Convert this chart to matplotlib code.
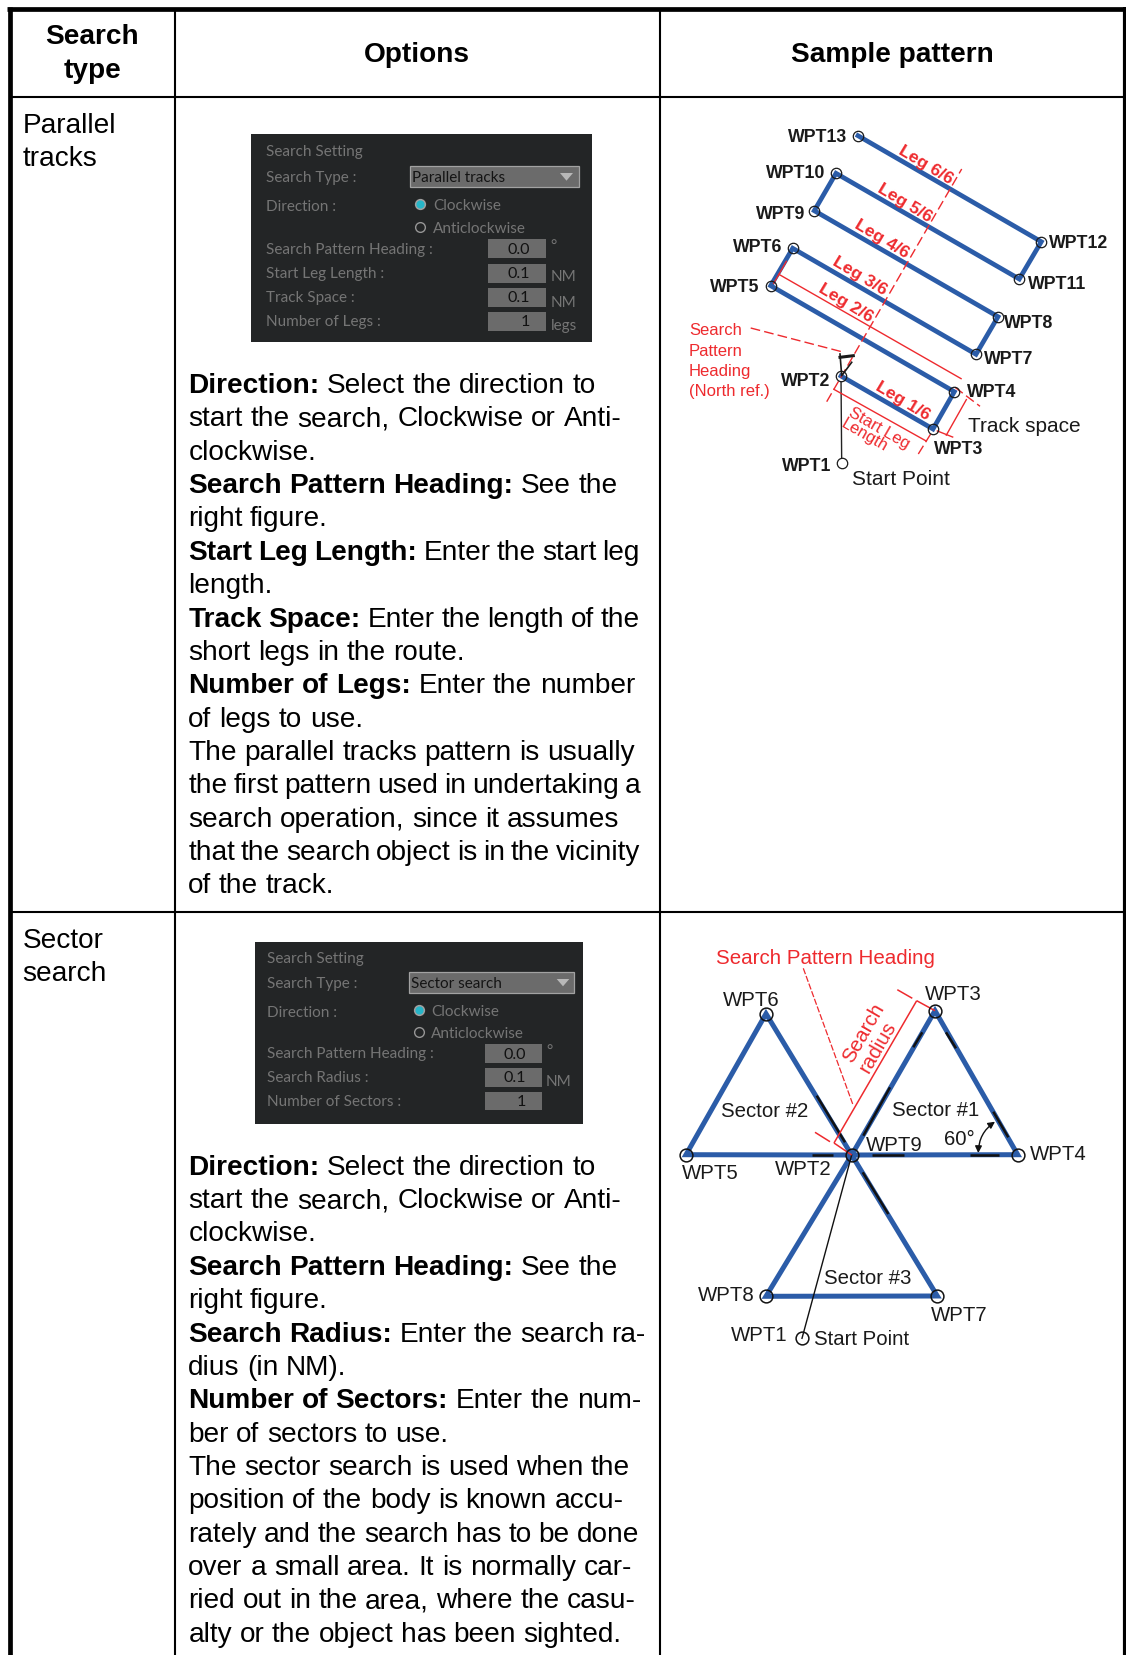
import matplotlib
matplotlib.use('Agg')
import matplotlib.pyplot as plt
from matplotlib.patches import Rectangle, Polygon

plt.rcParams['font.family'] = ['Liberation Sans', 'DejaVu Sans']

BLUE = '#2b5ca8'
RED = '#ee2a2e'
PANEL = '#232526'
GREY_TXT = '#757575'
FIELD = '#6b6b6b'
HEAD = 20.2
BODY = 20.2
UI = 'Lato'

# table
col_x = [174.5, 659.7]
row_y = [97.7, 912.7]
headers = ['Options', 'Sample pattern']

# text of the two rows: (bold part, plain part)
parallel_text = [
    ('Direction:', 'Select the direction to'),
    ('', 'start the search, Clockwise or Anti-'),
    ('', 'clockwise.'),
    ('Search Pattern Heading:', 'See the'),
    ('', 'right figure.'),
    ('Start Leg Length:', 'Enter the start leg'),
    ('', 'length.'),
    ('Track Space:', 'Enter the length of the'),
    ('', 'short legs in the route.'),
    ('Number of Legs:', 'Enter the number'),
    ('', 'of legs to use.'),
    ('', 'The parallel tracks pattern is usually'),
    ('', 'the first pattern used in undertaking a'),
    ('', 'search operation, since it assumes'),
    ('', 'that the search object is in the vicinity'),
    ('', 'of the track.'),
]
# the source text is justified, so each line has its own right end
parallel_ends = [595.7, 621.7, 315, 617.3, 327.3, 640, 271.7, 640, 464.3, 635, 362.7, 635, 640, 619, 640, 334]
sector_text = [
    ('Direction:', 'Select the direction to'),
    ('', 'start the search, Clockwise or Anti-'),
    ('', 'clockwise.'),
    ('Search Pattern Heading:', 'See the'),
    ('', 'right figure.'),
    ('Search Radius:', 'Enter the search ra-'),
    ('', 'dius (in NM).'),
    ('Number of Sectors:', 'Enter the num-'),
    ('', 'ber of sectors to use.'),
    ('', 'The sector search is used when the'),
    ('', 'position of the body is known accu-'),
    ('', 'rately and the search has to be done'),
    ('', 'over a small area. It is normally car-'),
    ('', 'ried out in the area, where the casu-'),
    ('', 'alty or the object has been sighted.'),
]
sector_ends = [595.7, 621.7, 315, 617.3, 327.3, 645.7, 345.7, 641, 448.3, 630, 623.3, 639.3, 631.7, 635.7, 621.7]

# parallel track waypoints, WPT1 to WPT13
par_x = [841.7, 841, 933, 954.3, 770.7, 792.7, 976, 998, 814.3, 836, 1019.3, 1041.3, 858]
par_y = [464.3, 377, 430, 392.7, 286.7, 249.3, 355.3, 317.7, 211.7, 174.3, 280, 242.7, 136.7]

# sector search waypoints, WPT1 to WPT9
sec_x = [802, 851.7, 935, 1017.7, 686, 766, 937.3, 766, 851.7]
sec_y = [1339.3, 1156, 1011.7, 1155.7, 1155.7, 1014.7, 1297, 1297.3, 1156]

# thin red lines (x0, y0, x1, y1)
par_red_solid = [(778.3, 275, 961.7, 380), (773.3, 285, 786.7, 261.7), (833.3, 390, 926.7, 442.3),
                 (946, 436.7, 966.7, 400), (936.7, 431.7, 953.3, 438.3)]
par_red_dash = [(826.7, 402.7, 961.7, 170), (955, 388.3, 980, 407.3), (918.3, 455, 931.7, 433.3),
                (750.7, 329, 841.7, 352.7)]
sec_red_solid = [(916.7, 1001.7, 834, 1144), (834, 1144, 851.7, 1156), (916.7, 1001.7, 935, 1011.7),
                 (897.3, 990.7, 912.3, 999.3), (815, 1133.3, 830, 1142.7)]
sec_red_dash = [(803.3, 969.3, 852.7, 1105)]

# black strokes lying on the blue sector lines
sec_black = [(816.7, 1096.7, 845, 1143.3), (863.3, 1136.7, 890, 1088.3), (913.3, 1048.3, 922.3, 1033.3),
             (946, 1033.3, 956, 1049.3), (993.3, 1112.7, 1008.3, 1138.3), (970, 1155.7, 999.3, 1155.7),
             (871.7, 1155.7, 904, 1155.7), (811.7, 1155.7, 832.7, 1155.7), (862.7, 1173.3, 888.3, 1215)]

# labels: text, x, y, ha
par_labels = [('WPT13', 847.3, 138, 'right'), ('WPT10', 825.7, 173.5, 'right'), ('WPT9', 805.7, 214.5, 'right'),
              ('WPT6', 782, 248, 'right'), ('WPT5', 759, 288, 'right'), ('WPT2', 830.7, 382, 'right'),
              ('WPT1', 831, 467, 'right'), ('WPT12', 1049.3, 243, 'left'), ('WPT11', 1028.3, 284.5, 'left'),
              ('WPT8', 1004.3, 323, 'left'), ('WPT7', 984.3, 359.5, 'left'), ('WPT4', 966.7, 393, 'left'),
              ('WPT3', 934, 449.5, 'left')]
leg_labels = [('Leg 6/6', 925.7, 165), ('Leg 5/6', 904.3, 202.7), ('Leg 4/6', 881.7, 238.7),
              ('Leg 3/6', 859.3, 275.7), ('Leg 2/6', 845.3, 303.3), ('Leg 1/6', 902.3, 401)]
heading_lines = [('Search', 330.3), ('Pattern', 351.3), ('Heading', 371.3), ('(North ref.)', 391.7)]
sec_labels = [('WPT6', 751.7, 1000.5, 'center'), ('WPT3', 953.3, 994.5, 'center'), ('WPT9', 866, 1145.5, 'left'),
              ('WPT4', 1030, 1154.5, 'left'), ('WPT5', 710, 1173.5, 'center'), ('WPT2', 803.3, 1169.5, 'center'),
              ('WPT8', 755, 1295.5, 'right'), ('WPT7', 959.3, 1315.5, 'center'), ('WPT1', 787.7, 1335.5, 'right'),
              ('Start Point', 814.3, 1340, 'left'), ('Sector #2', 764.3, 1111.7, 'center'),
              ('Sector #1', 935.7, 1111, 'center'), ('Sector #3', 867.3, 1278.7, 'center'),
              ('60°', 959.3, 1140, 'center')]

# dialog rows: text, y
par_dialog_left = [('Search Setting', 151.7), ('Search Type :', 177.7), ('Direction :', 207),
                   ('Search Pattern Heading :', 250), ('Start Leg Length :', 274),
                   ('Track Space :', 297.7), ('Number of Legs :', 321.7)]
par_fields = [('0.0', 240.3, 259.3), ('0.1', 264.7, 283.7), ('0.1', 288.7, 307.7), ('1', 312.7, 331.7)]
par_units = [('°', 247), ('NM', 277.3), ('NM', 302.7), ('legs', 326)]
sec_dialog_left = [('Search Setting', 958.7), ('Search Type :', 983.7), ('Direction :', 1012.7),
                   ('Search Pattern Heading :', 1054), ('Search Radius :', 1077.7),
                   ('Number of Sectors :', 1101.7)]
sec_fields = [('0.0', 1045.3, 1064), ('0.1', 1069, 1087.7), ('1', 1092.7, 1111)]
sec_units = [('°', 1052.3), ('NM', 1081.7)]

fig = plt.figure(figsize=(11.26, 16.56), dpi=100)
ax = fig.add_axes([0, 0, 1, 1])
ax.set_xlim(0, 1126)
ax.set_ylim(1656, 0)
ax.axis('off')
renderer = fig.canvas.get_renderer()


def segs(items, **kw):
    for a, b, c, d in items:
        ax.plot([a, c], [b, d], solid_capstyle='butt', dash_capstyle='butt', **kw)


# table lines
ax.plot([9.7, 9.7], [8, 1656], color='k', lw=3.4, solid_capstyle='butt')
ax.plot([7, 1126], [10.3, 10.3], color='k', lw=3.4, solid_capstyle='butt')
ax.plot([1125.3, 1125.3], [8, 1656], color='k', lw=3.0, solid_capstyle='butt')
for x in col_x:
    ax.plot([x, x], [10, 1656], color='k', lw=1.5, solid_capstyle='butt')
for y in row_y:
    ax.plot([9, 1126], [y, y], color='k', lw=1.5, solid_capstyle='butt')

# headers
ax.text(92, 37.5, 'Search', fontsize=HEAD, fontweight='bold', ha='center', va='center')
ax.text(92, 70.5, 'type', fontsize=HEAD, fontweight='bold', ha='center', va='center')
ax.text(417, 54.5, headers[0], fontsize=HEAD, fontweight='bold', ha='center', va='center')
ax.text(892.6, 54.5, headers[1], fontsize=HEAD, fontweight='bold', ha='center', va='center')
ax.text(22.5, 133, 'Parallel', fontsize=HEAD, va='baseline')
ax.text(22.5, 166, 'tracks', fontsize=HEAD, va='baseline')
ax.text(22.5, 948, 'Sector', fontsize=HEAD, va='baseline')
ax.text(22.5, 981, 'search', fontsize=HEAD, va='baseline')


def body(lines, ends, x, y0, pitch):
    # words placed one by one, the gaps share out what is left up to the line end
    for i, (bold, plain) in enumerate(lines):
        y = y0 + i * pitch
        words = [(w, 'bold') for w in bold.split()] + [(w, 'normal') for w in plain.split()]
        placed = [ax.text(x, y, w, fontsize=BODY, fontweight=fw, va='baseline') for w, fw in words]
        widths = [t.get_window_extent(renderer).width for t in placed]
        if len(placed) > 1:
            gap = (ends[i] - x - sum(widths)) / (len(placed) - 1)
        else:
            gap = 0
        xx = x
        for t, w in zip(placed, widths):
            t.set_x(xx)
            xx += w + gap


body(parallel_text, parallel_ends, 188.3, 393, 33.36)
body(sector_text, sector_ends, 188.3, 1174.8, 33.35)


def dialog(box, left_x, rows, combo, combo_text, tri, radio_x, radio_y, radio_txt_x, fields, field_x, units, unit_x):
    ax.add_patch(Rectangle((box[0], box[1]), box[2] - box[0], box[3] - box[1], fc=PANEL, ec='none', zorder=1))
    for txt, y in rows:
        ax.text(left_x, y, txt, color=GREY_TXT, fontsize=11, va='center', family=UI, zorder=2)
    ax.add_patch(Rectangle((combo[0], combo[1]), combo[2] - combo[0], combo[3] - combo[1], fc=FIELD, ec='#a2a2a2',
                           lw=0.9, zorder=2))
    ax.text(combo[0] + 2, (combo[1] + combo[3]) / 2 + 0.5, combo_text, color='#141414', fontsize=11, va='center',
            family=UI, zorder=3)
    ax.add_patch(Polygon(tri, fc='#b8b8b8', ec='none', zorder=3))
    ax.plot([radio_x], [radio_y[0]], 'o', ms=7, mfc='#26b5c8', mec='#a0a0a0', mew=1.1, zorder=3)
    ax.plot([radio_x], [radio_y[1]], 'o', ms=7, mfc='none', mec='#969696', mew=1.0, zorder=3)
    ax.text(radio_txt_x, radio_y[0] + 1, 'Clockwise', color=GREY_TXT, fontsize=11, va='center', family=UI, zorder=3)
    ax.text(radio_txt_x, radio_y[1] + 1, 'Anticlockwise', color=GREY_TXT, fontsize=11, va='center', family=UI,
            zorder=3)
    for val, y0, y1 in fields:
        ax.add_patch(Rectangle((field_x[0], y0), field_x[1] - field_x[0], y1 - y0, fc=FIELD, ec='none', zorder=2))
        ax.text(field_x[2] if val != '1' else field_x[3], (y0 + y1) / 2, val, color='#111111', fontsize=11.6,
                ha='center', va='center', family=UI, zorder=3)
    for u, y in units:
        ax.text(unit_x, y, u, color=GREY_TXT, fontsize=11, va='center', family=UI, zorder=3)


dialog((251, 135, 591.5, 343), 265.5, par_dialog_left, (410.3, 167.3, 579, 188.3), 'Parallel tracks',
       [(560, 174), (573, 174), (566.5, 181.7)], 420.3, (205.3, 227.7), 433.3, par_fields, (487.7, 546, 519, 525),
       par_units, 550.5)
dialog((255, 943, 583, 1125), 267, sec_dialog_left, (409, 973.3, 574, 994), 'Sector search',
       [(556.7, 980), (569.3, 980), (563, 987.3)], 419.3, (1011, 1033.3), 431, sec_fields, (485, 541.7, 515, 521.7),
       sec_units, 546)

# parallel tracks pattern
segs(par_red_solid, color=RED, lw=1.0, zorder=5)
segs(par_red_dash, color=RED, lw=1.0, ls=(0, (7, 3)), zorder=5)
ax.plot(par_x[:2], par_y[:2], color='#222222', lw=1.0, zorder=3)
ax.plot(par_x, par_y, 'o', ms=7.5, mfc='white', mec='none', zorder=3)
ax.plot(par_x[1:], par_y[1:], color=BLUE, lw=3.4, solid_joinstyle='miter', zorder=4)
ax.plot(par_x, par_y, 'o', ms=7.5, mfc='none', mec='#1a1a1a', mew=0.9, zorder=6)
# heading mark at WPT2
ax.plot([840, 853.3], [358.3, 356.7], color='#1a1a1a', lw=2.2, zorder=6)
ax.plot([840, 841.7, 851.7], [355, 376.7, 363.3], color='#1a1a1a', lw=1.2, zorder=6)

for txt, x, y, ha in par_labels:
    ax.text(x, y, txt, fontsize=12.8, fontweight='bold', color='#1a1a1a', ha=ha, va='center', zorder=7)
for txt, x, y in leg_labels:
    ax.text(x, y, txt, fontsize=12.6, fontweight='bold', color=RED, ha='center', va='center', rotation=-31,
            rotation_mode='anchor', zorder=7)
for txt, y in heading_lines:
    ax.text(689, y, txt, fontsize=12, color=RED, va='center', zorder=7)
ax.text(879.5, 428.2, 'Start Leg', fontsize=12, color=RED, ha='center', va='center', rotation=-30,
        rotation_mode='anchor', zorder=7)
ax.text(864.2, 435.5, 'Length', fontsize=12, color=RED, ha='center', va='center', rotation=-30,
        rotation_mode='anchor', zorder=7)
ax.text(967.5, 427, 'Track space', fontsize=15, color='#1a1a1a', va='center', zorder=7)
ax.text(852, 480, 'Start Point', fontsize=15, color='#1a1a1a', va='center', zorder=7)

# sector search pattern
order = [1, 2, 3, 8, 4, 5, 8, 6, 7, 8]
sec_px = [sec_x[i] for i in order]
sec_py = [sec_y[i] for i in order]
ax.plot(sec_x, sec_y, 'o', ms=9.2, mfc='white', mec='none', zorder=3)
ax.plot(sec_x[:2], sec_y[:2], color='#111111', lw=1.0, zorder=5)
ax.plot(sec_px, sec_py, color=BLUE, lw=3.6, solid_joinstyle='miter', zorder=4)
segs(sec_black, color='#111111', lw=1.8, zorder=5)
segs(sec_red_solid, color=RED, lw=1.1, zorder=6)
segs(sec_red_dash, color=RED, lw=0.9, ls=(0, (5, 1.5)), zorder=6)
ax.plot(sec_x[:-1], sec_y[:-1], 'o', ms=9.2, mfc='none', mec='#111111', mew=1.1, zorder=7)
ax.annotate('', xy=(995, 1122.7), xytext=(978.3, 1154), zorder=7,
            arrowprops=dict(arrowstyle='<|-|>', color='#111111', lw=1.0, connectionstyle='arc3,rad=-0.25',
                            shrinkA=0, shrinkB=0, mutation_scale=10))
for txt, x, y, ha in sec_labels:
    ax.text(x, y, txt, fontsize=14.7, color='#1a1a1a', ha=ha, va='center', zorder=8)
ax.text(715.5, 958.7, 'Search Pattern Heading', fontsize=14.8, color=RED, va='center', zorder=8)
ax.text(863.3, 1033.3, 'Search', fontsize=14.8, color=RED, ha='center', va='center', rotation=60,
        rotation_mode='anchor', zorder=8)
ax.text(878.3, 1047.3, 'radius', fontsize=14.8, color=RED, ha='center', va='center', rotation=60,
        rotation_mode='anchor', zorder=8)

fig.savefig('out.png', dpi=100, facecolor='white')
